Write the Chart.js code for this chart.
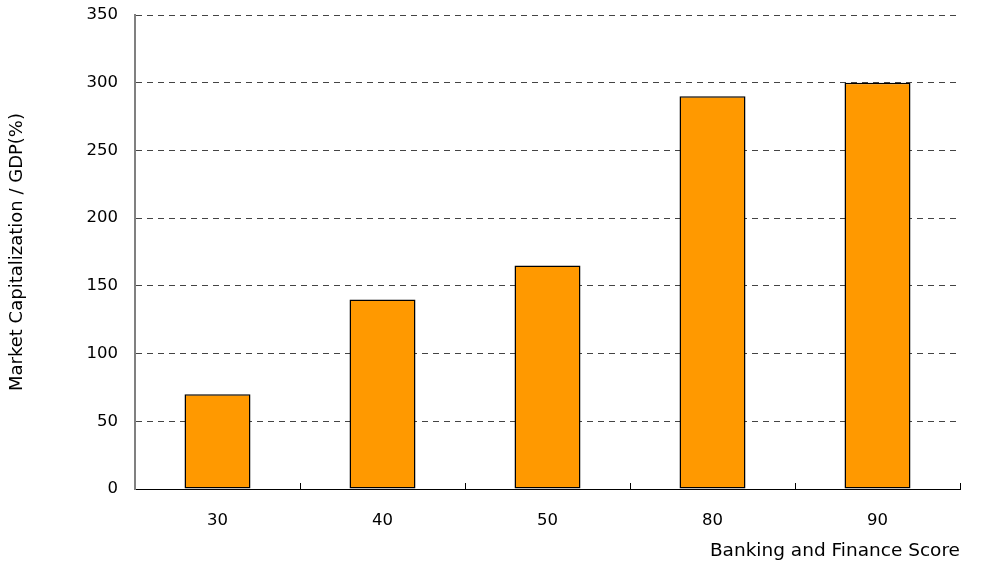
<!DOCTYPE html>
<html>
<head>
<meta charset="utf-8">
<style>
  html, body { margin: 0; padding: 0; background: #ffffff; }
  #wrap { width: 1003px; height: 569px; }
</style>
<script src="https://cdn.jsdelivr.net/npm/chart.js@4/dist/chart.umd.min.js"></script>
</head>
<body>
<div id="wrap"><canvas id="chart" width="1003" height="569"></canvas></div>
<script>
// Banking and finance score vs. stock market capitalization
const categories = ['30', '40', '50', '80', '90'];
const marketCapGdp = [70, 140, 165, 290, 300];
const yTicks = [0, 50, 100, 150, 200, 250, 300, 350];

const FONT = "'DejaVu Sans', 'Liberation Sans', Arial, sans-serif";

new Chart(document.getElementById('chart'), {
  type: 'bar',
  data: {
    labels: categories,
    datasets: [{
      data: marketCapGdp,
      backgroundColor: '#FF9900',
      borderColor: '#000000',
      borderWidth: 1.5,
      borderSkipped: false,
      categoryPercentage: 1.0,
      barPercentage: 0.4
    }]
  },
  options: {
    responsive: false,
    animation: false,
    devicePixelRatio: 1,
    layout: { padding: { left: 0, top: 15, right: 43, bottom: 0 } },
    plugins: {
      legend: { display: false },
      tooltip: { enabled: false }
    },
    scales: {
      x: {
        type: 'category',
        offset: true,
        grid: {
          display: true,
          offset: true,
          drawOnChartArea: false,
          drawTicks: true,
          tickLength: -6,
          color: '#000000',
          lineWidth: 1
        },
        border: { display: true, color: '#000000', width: 1 },
        ticks: {
          color: '#000000',
          font: { family: FONT, size: 16.5 },
          padding: 28,
          maxRotation: 0
        },
        title: {
          display: true,
          text: 'Banking and Finance Score',
          align: 'end',
          color: '#000000',
          font: { family: FONT, size: 18.5 },
          padding: { top: 0, bottom: 7 }
        },
        afterFit: (scale) => { scale.height = 80; }
      },
      y: {
        min: 0,
        max: 350,
        afterBuildTicks: (scale) => { scale.ticks = yTicks.map(v => ({ value: v })); },
        grid: {
          display: true,
          drawTicks: true,
          tickLength: 17,
          tickColor: 'rgba(0,0,0,0)',
          color: '#444444',
          lineWidth: 1
        },
        border: { display: true, color: '#808080', width: 2, dash: [6, 5] },
        ticks: {
          color: '#000000',
          font: { family: FONT, size: 16.5 },
          padding: 0
        },
        title: {
          display: true,
          text: 'Market Capitalization / GDP(%)',
          color: '#000000',
          font: { family: FONT, size: 18 },
          padding: { top: 7, bottom: 0 }
        },
        afterFit: (scale) => { scale.width = 135; }
      }
    }
  }
});
</script>
</body>
</html>
